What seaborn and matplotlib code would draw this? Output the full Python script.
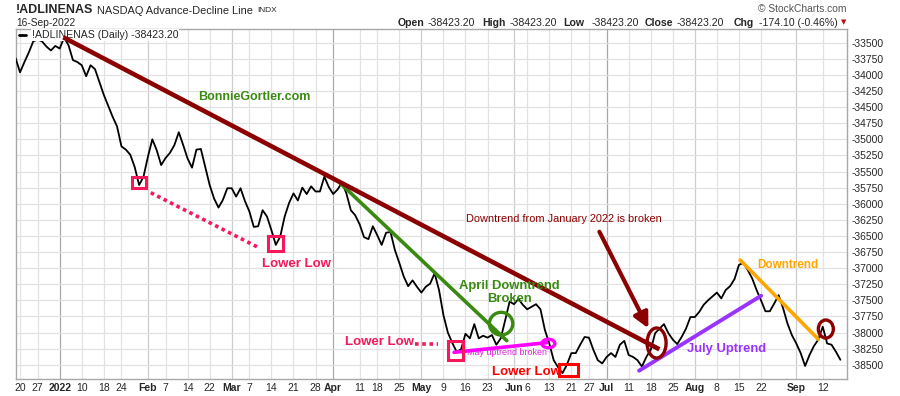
import pandas as pd
import matplotlib
matplotlib.use("Agg")
import matplotlib.pyplot as plt
from matplotlib.patches import Ellipse, Rectangle
import seaborn as sns

# NYSE trading days shown on the chart
start_date = "2021-12-17"
end_date = "2022-09-16"
holidays = ["2021-12-24", "2022-01-17", "2022-02-21", "2022-04-15",
            "2022-05-30", "2022-06-20", "2022-07-04", "2022-09-05"]

# daily close of !ADLINENAS
adline = [
    -33740, -33960, -33800, -33650, -33480, -33450, -33480, -33560, -33620, -33550,
    -33590, -33420, -33540, -33770, -33800, -33850, -34020, -33850, -33910, -34110,
    -34310, -34480, -34650, -34800, -35110, -35160, -35240, -35430, -35710, -35580,
    -35270, -35000, -35170, -35400, -35290, -35210, -35090, -34890, -35090, -35300,
    -35440, -35160, -35150, -35430, -35710, -35920, -36060, -35940, -35760, -35760,
    -35890, -35760, -35960, -36120, -36360, -36350, -36100, -36200, -36410, -36640,
    -36510, -36200, -35990, -35840, -35950, -35750, -35850, -35730, -35810, -35810,
    -35580, -35740, -35850, -35780, -35670, -35840, -36100, -36180, -36320, -36520,
    -36550, -36350, -36490, -36640, -36450, -36440, -36720, -36920, -37130, -37280,
    -37190, -37290, -37380, -37290, -37240, -37080, -37340, -37730, -38000, -38160,
    -38300, -38260, -38020, -38090, -37870, -38090, -38050, -38080, -38040, -38190,
    -38090, -37810, -37520, -37560, -37480, -37570, -37640, -37600, -37560, -37640,
    -37960, -38170, -38430, -38540, -38630, -38500, -38320, -38320, -38190, -38070,
    -38080, -38270, -38430, -38480, -38380, -38320, -38380, -38190, -38130, -38350,
    -38380, -38430, -38530, -38380, -38270, -38010, -37940, -37870, -38010, -38110,
    -38180, -38070, -37940, -37760, -37760, -37680, -37570, -37500, -37440, -37380,
    -37470, -37340, -37280, -37170, -36950, -36920, -37030, -37160, -37340, -37500,
    -37670, -37670, -37550, -37420, -37620, -37860, -38040, -38170, -38320, -38520,
    -38350, -38210, -38110, -37910, -38170, -38190, -38300, -38423.20,
]

tick_dates = ["2021-12-20", "2021-12-27", "2022-01-03", "2022-01-10", "2022-01-18",
              "2022-01-24", "2022-02-01", "2022-02-07", "2022-02-14", "2022-02-22",
              "2022-03-01", "2022-03-07", "2022-03-14", "2022-03-21", "2022-03-28",
              "2022-04-01", "2022-04-11", "2022-04-18", "2022-04-25", "2022-05-02",
              "2022-05-09", "2022-05-16", "2022-05-23", "2022-06-01", "2022-06-06",
              "2022-06-13", "2022-06-21", "2022-06-27", "2022-07-01", "2022-07-11",
              "2022-07-18", "2022-07-25", "2022-08-01", "2022-08-08", "2022-08-15",
              "2022-08-22", "2022-09-01", "2022-09-12"]
tick_labels = ["20", "27", "2022", "10", "18", "24", "Feb", "7", "14", "22",
               "Mar", "7", "14", "21", "28", "Apr", "11", "18", "25", "May",
               "9", "16", "23", "Jun", "6", "13", "21", "27", "Jul", "11",
               "18", "25", "Aug", "8", "15", "22", "Sep", "12"]
month_labels = ["2022", "Feb", "Mar", "Apr", "May", "Jun", "Jul", "Aug", "Sep"]
quarter_labels = ["2022", "Apr", "Jul"]

y_ticks = list(range(-38500, -33499, 250))

days = pd.bdate_range(start_date, end_date)
days = days[~days.isin(pd.to_datetime(holidays))]
df = pd.DataFrame({"date": days, "value": adline})
df["pos"] = range(len(df))

sns.set_style("white")
plt.rcParams["font.family"] = ["Liberation Sans", "DejaVu Sans"]

fig = plt.figure(figsize=(9, 3.96), dpi=100)
ax = fig.add_axes([16 / 900, 17 / 396, 831 / 900, 350 / 396])

tick_pos = [days.get_loc(pd.Timestamp(d)) for d in tick_dates]
for p, lab in zip(tick_pos, tick_labels):
    if lab in quarter_labels:
        c = "#a8a8a8"
    elif lab in month_labels:
        c = "#cdcdcd"
    else:
        c = "#e2e2e2"
    ax.axvline(p, color=c, lw=0.9, zorder=0)
for v in y_ticks:
    ax.axhline(v, color="#e2e2e2", lw=0.9, zorder=0)

sns.lineplot(data=df, x="pos", y="value", color="black", lw=1.3, ax=ax, zorder=5)

ax.set_xlim(0.09, 188.5)
ax.set_ylim(-38722, -33287)
ax.set_xlabel("")
ax.set_ylabel("")

ax.set_xticks(tick_pos)
ax.set_xticklabels(tick_labels)
for t in ax.get_xticklabels():
    if t.get_text() in month_labels:
        t.set_fontweight("bold")
ax.tick_params(axis="x", length=0, pad=3, labelsize=7.5)

ax.yaxis.tick_right()
ax.set_yticks(y_ticks)
ax.set_yticklabels([str(v) for v in y_ticks])
ax.tick_params(axis="y", length=0, pad=3.5, labelsize=7.4)

for s in ax.spines.values():
    s.set_color("#a8a8a8")
    s.set_linewidth(1)

# legend line in the top-left corner
ax.plot([(19.3 - 16) / 831, (26 - 16) / 831], [(379 - 35.3) / 350] * 2,
        transform=ax.transAxes, color="black", lw=2, zorder=6)
ax.text((31.7 - 16) / 831, (379 - 35.3) / 350, "!ADLINENAS (Daily) -38423.20",
        transform=ax.transAxes, fontsize=7.6, va="center", ha="left", zorder=6,
        bbox=dict(fc="white", ec="none", pad=0.6))

# annotations
dark_red = "#8b0000"
green = "#3a8a12"
pink = "#f5195b"
red = "#ff0000"
magenta = "#ff00ff"
purple = "#9933ff"
orange = "#ffa500"

ax.plot([10.82, 145.96], [-33416, -38261], color=dark_red, lw=3.3, zorder=8,
        solid_capstyle="butt")
ax.add_patch(Ellipse((145.33, -38163), 4.3, 466, fill=False, ec=dark_red, lw=2.4, zorder=8))
ax.add_patch(Ellipse((183.7, -37946), 3.4, 280, fill=False, ec=dark_red, lw=2.4, zorder=8))
ax.annotate("", xy=(143.47, -37935), xytext=(132.36, -36435),
            arrowprops=dict(arrowstyle="-|>,head_length=0.9,head_width=0.45",
                            color=dark_red, lw=3, shrinkA=0, shrinkB=0,
                            mutation_scale=10), zorder=8)
ax.text(124.36, -36238, "Downtrend from January 2022 is broken", color=dark_red,
        fontsize=7.9, ha="center", va="center", zorder=8)

ax.text(54.06, -34339, "BonnieGortler.com", color=green, fontsize=9,
        fontweight="bold", ha="center", va="center", zorder=8)
ax.plot([73.4, 111.36], [-35668, -38127], color=green, lw=2.6, zorder=7)
ax.add_patch(Ellipse((110.07, -37863), 5.3, 352, fill=False, ec=green, lw=2.4, zorder=7))
ax.text(112.0, -37278, "April Downtrend", color=green, fontsize=9.4,
        fontweight="bold", ha="center", va="center", zorder=8)
ax.text(112.0, -37484, "Broken", color=green, fontsize=9.4,
        fontweight="bold", ha="center", va="center", zorder=8)

ax.text(111.43, -38318, "May uptrend broken", color="#e020e0", fontsize=6.4,
        ha="center", va="center", zorder=4)
ax.plot([99.41, 120.43], [-38308, -38158], color=magenta, lw=2.6, zorder=7)
ax.add_patch(Ellipse((120.8, -38171), 2.95, 132, fill=False, ec=magenta, lw=2.4, zorder=7))

for (x0, x1, y0, y1), c in [((26.33, 29.50, -35761, -35581), pink),
                            ((57.30, 60.70, -36730, -36502), pink),
                            ((98.12, 101.52, -38427, -38127), pink),
                            ((123.29, 127.6, -38676, -38489), red)]:
    ax.add_patch(Rectangle((x0, y0), x1 - x0, y1 - y0, fill=False, ec=c, lw=2.2, zorder=7))

ax.plot([30.64, 55.42], [-35829, -36693], color=pink, lw=2.6, ls=(0, (1, 1)), zorder=7)
ax.plot([90.57, 95.85], [-38179, -38179], color=pink, lw=2.6, ls=(0, (1, 1)), zorder=7)
ax.text(63.59, -36936, "Lower Low", color=pink, fontsize=9.5, fontweight="bold",
        ha="center", va="center", zorder=8)
ax.text(82.41, -38143, "Lower Low", color=pink, fontsize=9.5, fontweight="bold",
        ha="center", va="center", zorder=8)
ax.text(115.74, -38609, "Lower Low", color=red, fontsize=9.5, fontweight="bold",
        ha="center", va="center", zorder=8)

ax.plot([141.36, 169.03], [-38593, -37429], color=purple, lw=2.8, zorder=7)
ax.text(161.25, -38261, "July Uptrend", color=purple, fontsize=9.4,
        fontweight="bold", ha="center", va="center", zorder=8)

ax.plot([164.27, 182.02], [-36874, -38106], color=orange, lw=2.6, zorder=7)
ax.text(175.04, -36952, "Downtrend", color=orange, fontsize=8.5,
        fontweight="bold", ha="center", va="center", zorder=8)

# header
def fx(x):
    return x / 900

def fy(y):
    return 1 - y / 396

fig.text(fx(16), fy(10), "!ADLINENAS", fontsize=9, fontweight="bold", va="center")
fig.text(fx(97), fy(10.5), "NASDAQ Advance-Decline Line", fontsize=7.9, va="center")
fig.text(fx(257), fy(11), "INDX", fontsize=6, va="center")
fig.text(fx(16), fy(23), "16-Sep-2022", fontsize=7.4, va="center")
fig.text(fx(847), fy(9.3), "\u00a9 StockCharts.com", fontsize=7.4, color="#555555",
         ha="right", va="center")

header_parts = [("Open", 397.5, True), ("-38423.20", 427.5, False),
                ("High", 482.3, True), ("-38423.20", 509.3, False),
                ("Low", 563.3, True), ("-38423.20", 591.7, False),
                ("Close", 645, True), ("-38423.20", 676.7, False),
                ("Chg", 734, True), ("-174.10 (-0.46%)", 759.3, False)]
for txt, x, bold in header_parts:
    fig.text(fx(x), fy(22.5), txt, fontsize=7.6,
             fontweight="bold" if bold else "normal", va="center")
fig.text(fx(843.7), fy(22.5), "\u25bc", fontsize=5, color="#b01010",
         ha="center", va="center", family="DejaVu Sans")

fig.savefig("out.png", dpi=100)
